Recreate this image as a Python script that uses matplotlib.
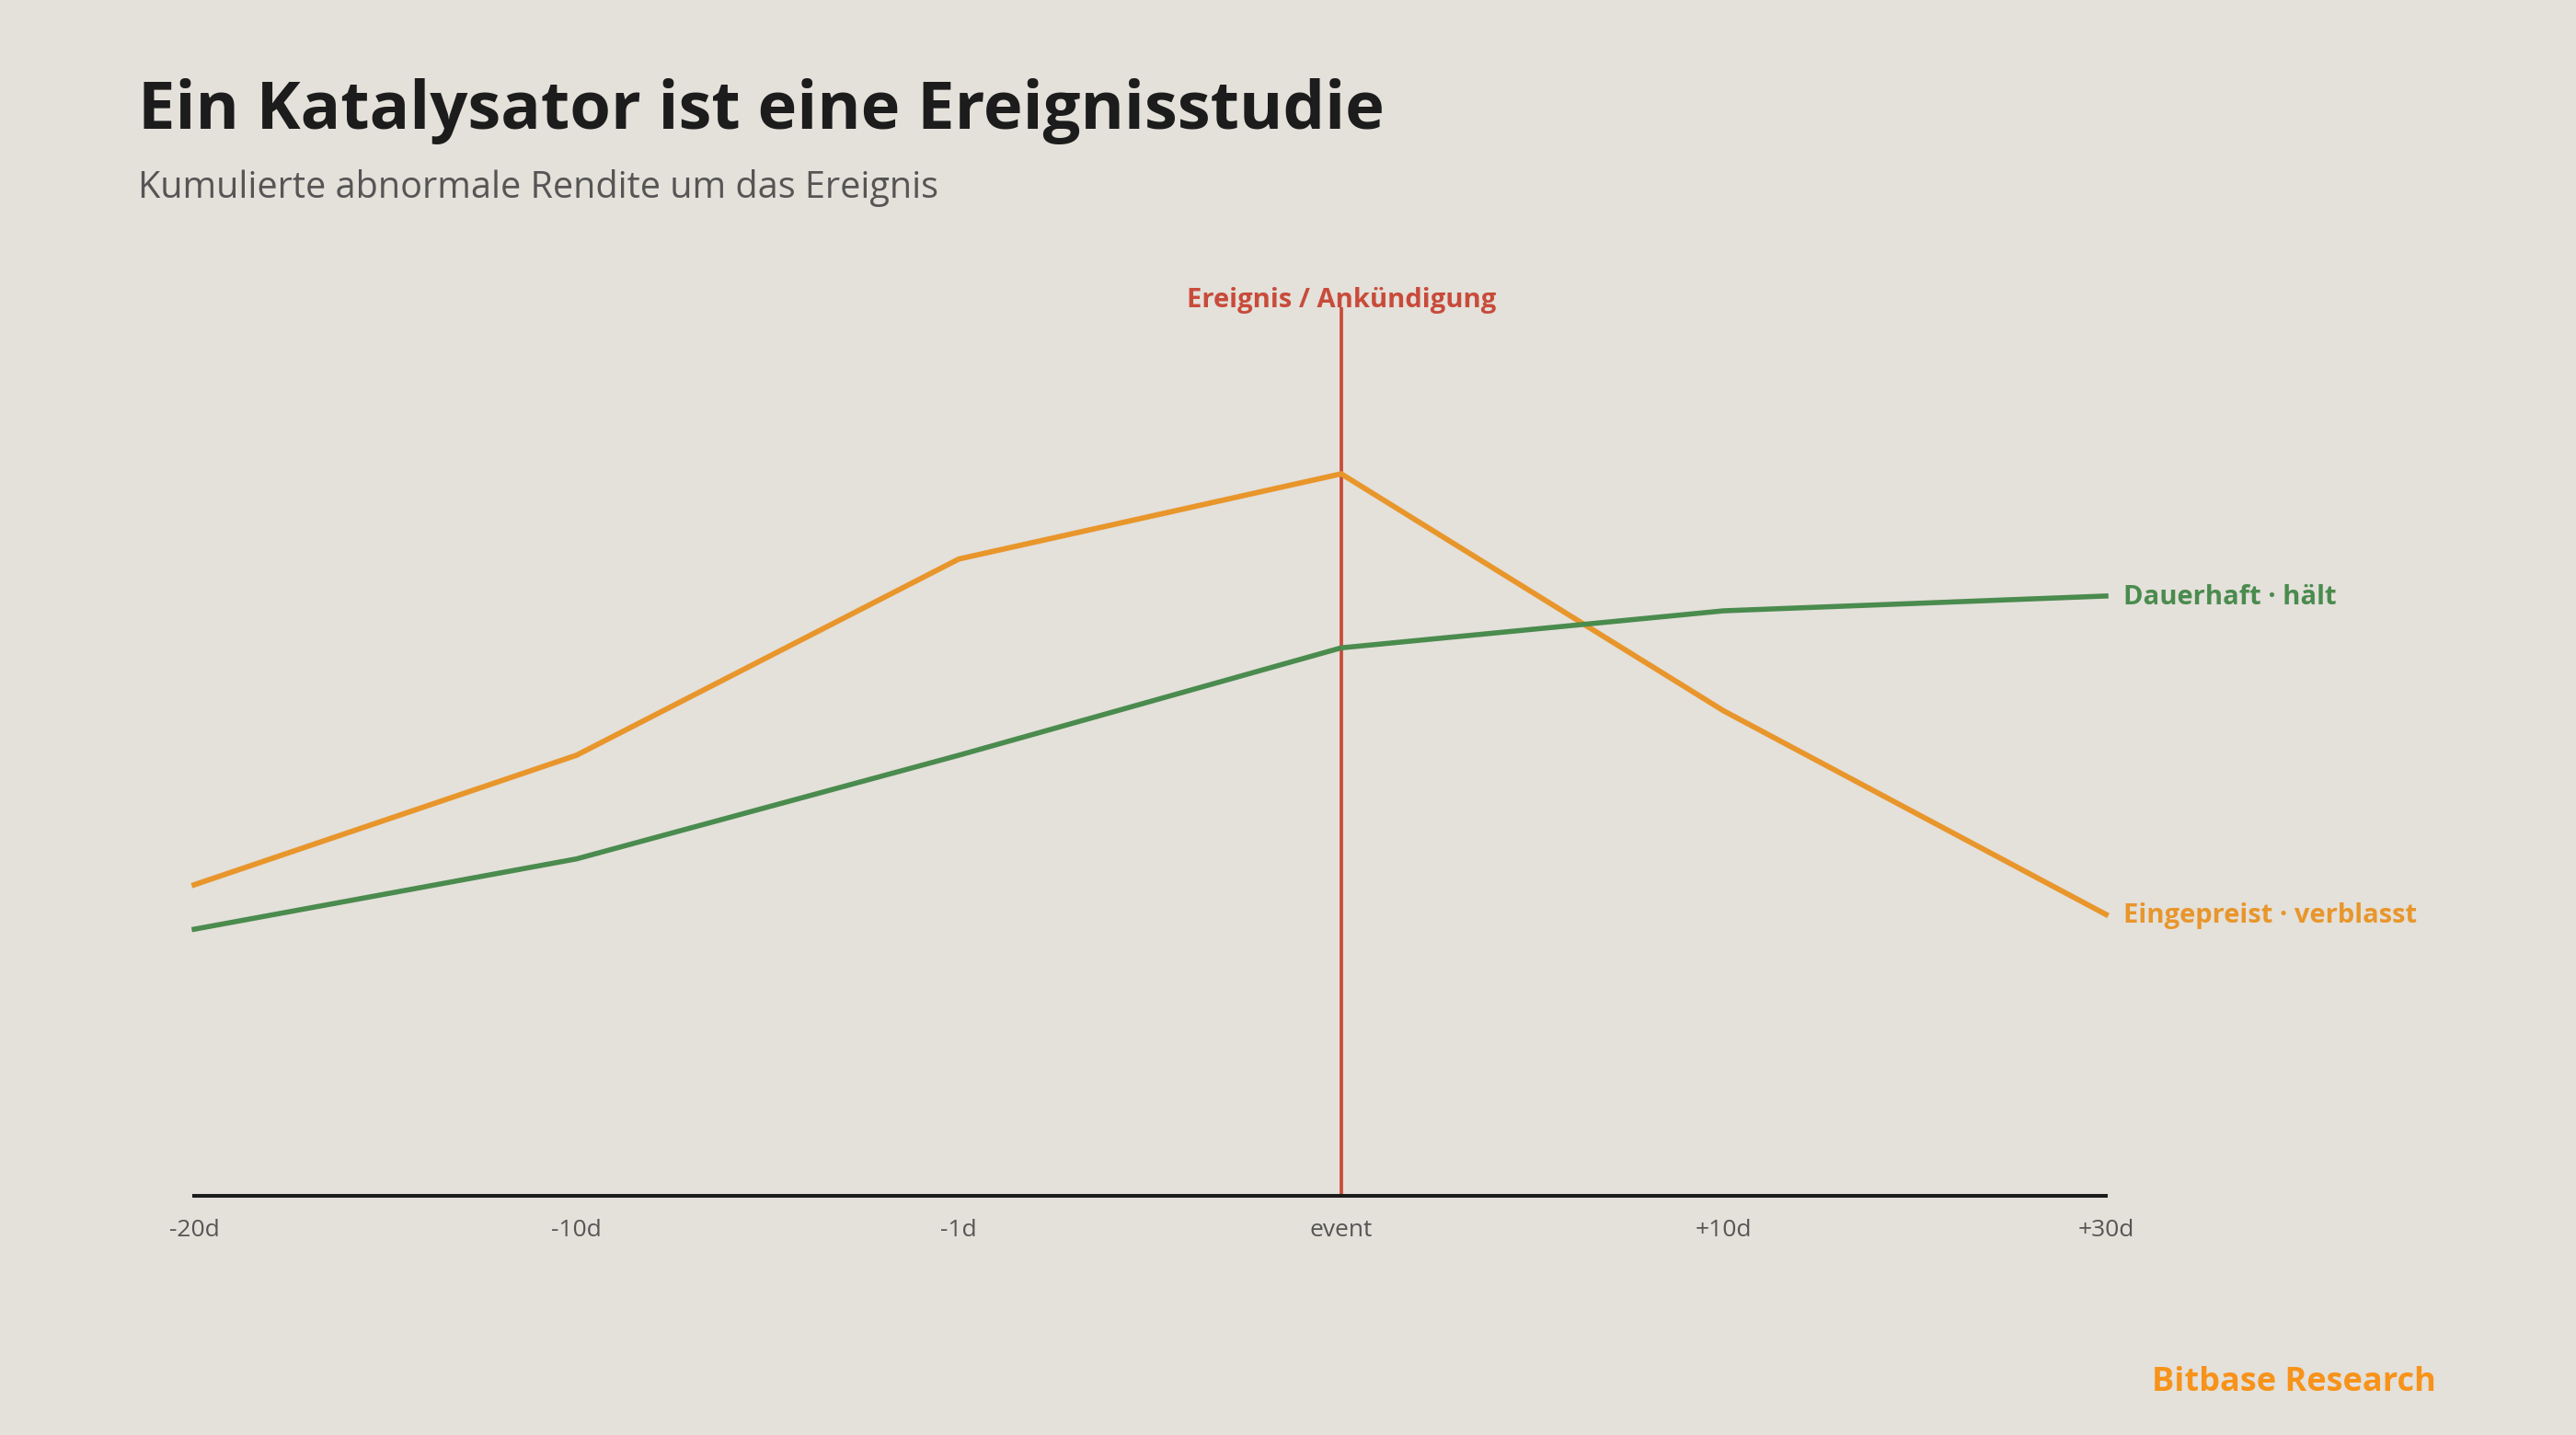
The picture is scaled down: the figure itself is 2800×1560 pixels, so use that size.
import matplotlib
matplotlib.use("Agg")
import matplotlib.pyplot as plt
import matplotlib.transforms as mtransforms

# Data: cumulative abnormal return around the event
windows = ["-20d", "-10d", "-1d", "event", "+10d", "+30d"]
priced_in = [0.2, 1.95, 4.6, 5.75, 2.55, -0.2]   # Eingepreist · verblasst
durable = [-0.4, 0.55, 1.95, 3.4, 3.9, 4.1]      # Dauerhaft · hält
event_label = "Ereignis / Ankündigung"
event_idx = 3

BG = "#E4E0DA"
ORANGE = "#E8962B"
GREEN = "#4A8B4E"
RED = "#C84B3A"
DARK = "#1C1C1C"
GREY = "#555555"
BRAND = "#F7931A"

plt.rcParams["font.family"] = ["Open Sans", "DejaVu Sans"]

fig = plt.figure(figsize=(28, 15.6), dpi=100, facecolor=BG)
ax = fig.add_axes([0.0754, 0.1667, 0.7421, 0.6192])
ax.set_facecolor(BG)

x = list(range(len(windows)))
ax.plot(x, priced_in, color=ORANGE, lw=4.2, solid_joinstyle="miter", clip_on=False, zorder=3)
ax.plot(x, durable, color=GREEN, lw=4.0, solid_joinstyle="miter", clip_on=False, zorder=3)

ax.set_xlim(0, len(windows) - 1)
ax.set_ylim(-4, 8)

# event marker
ax.axvline(event_idx, ymin=0, ymax=1, color=RED, lw=2.7, zorder=2)
trans = mtransforms.blended_transform_factory(ax.transData, ax.transAxes)
ax.text(event_idx, 1.0, event_label, transform=trans, ha="center", va="baseline",
        color=RED, fontsize=21, fontweight="bold")

# end labels
ax.annotate("Dauerhaft · hält", (x[-1], durable[-1]), xytext=(14, -1),
            textcoords="offset points", va="center", ha="left",
            color=GREEN, fontsize=21, fontweight="bold", annotation_clip=False)
ax.annotate("Eingepreist · verblasst", (x[-1], priced_in[-1]), xytext=(14, -1),
            textcoords="offset points", va="center", ha="left",
            color=ORANGE, fontsize=21, fontweight="bold", annotation_clip=False)

for s in ["top", "right", "left"]:
    ax.spines[s].set_visible(False)
ax.spines["bottom"].set_color(DARK)
ax.spines["bottom"].set_linewidth(2.9)
ax.spines["bottom"].set_zorder(4)
ax.set_yticks([])
ax.set_xticks(x)
ax.set_xticklabels(windows)
ax.tick_params(axis="x", length=0, pad=18, labelsize=19, labelcolor=GREY)

fig.text(0.0536, 0.9103, "Ein Katalysator ist eine Ereignisstudie", ha="left", va="baseline",
         fontsize=52, fontweight="bold", color=DARK)
fig.text(0.0536, 0.8622, "Kumulierte abnormale Rendite um das Ereignis", ha="left", va="baseline",
         fontsize=28.5, color=GREY)
fig.text(0.9457, 0.0308, "Bitbase Research", ha="right", va="baseline",
         fontsize=26, fontweight="bold", color=BRAND)

fig.savefig("out.png", dpi=100, facecolor=BG)
